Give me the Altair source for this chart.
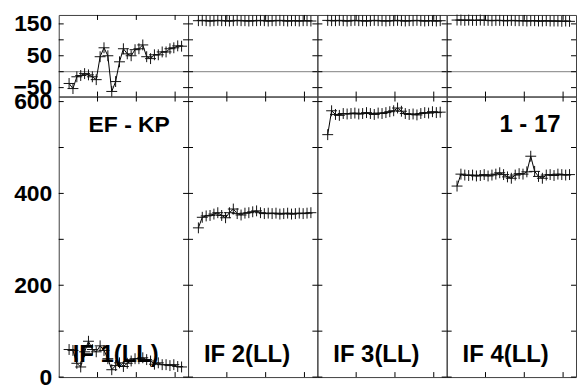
import altair as alt
import pandas as pd

times = [0.8, 1.1, 1.4, 1.7, 2.0, 2.3, 2.6, 2.9, 3.2, 3.5, 3.8, 4.1, 4.4, 4.7, 5.0,
         5.3, 5.6, 5.9, 6.2, 6.5, 6.8, 7.1, 7.4, 7.7, 8.0, 8.3, 8.6, 8.9, 9.2, 9.5]

phase_if1 = [-37, -53, -16, -12, -6, -10, -16, -25, 47, 75, 50, -62, -31, 31, 72,
             56, 50, 69, 72, 84, 47, 41, 53, 53, 62, 62, 72, 75, 81, 80]
phase_if2 = [160, 161, 160, 159, 160, 161, 160, 160, 159, 160, 161, 160, 160, 159, 160,
             160, 161, 160, 159, 160, 160, 161, 160, 159, 160, 160, 159, 160, 160, 159]
phase_if3 = [161, 160, 160, 161, 160, 159, 160, 161, 160, 160, 159, 160, 161, 160, 160,
             159, 160, 160, 161, 160, 159, 160, 160, 161, 160, 159, 160, 160, 159, 160]
phase_if4 = [162, 162, 161, 162, 161, 161, 162, 161, 161, 160, 161, 161, 160, 160, 161,
             160, 160, 160, 159, 160, 160, 159, 159, 160, 159, 159, 159, 158, 159, 158]

amp_if1 = [60, 58, 30, 22, 55, 78, 60, 55, 68, 58, 40, 16, 25, 31, 23,
           30, 35, 40, 40, 42, 38, 35, 28, 31, 27, 27, 25, 27, 23, 22]
amp_if2 = [325, 348, 351, 352, 355, 358, 352, 347, 358, 366, 356, 353, 357, 358, 360,
           362, 358, 356, 357, 356, 357, 355, 356, 357, 355, 356, 357, 356, 357, 358]
amp_if3 = [528, 580, 572, 570, 574, 573, 574, 575, 573, 574, 576, 574, 572, 575, 574,
           576, 578, 580, 586, 579, 574, 572, 573, 571, 574, 576, 575, 578, 576, 577]
amp_if4 = [416, 442, 440, 439, 440, 438, 439, 441, 438, 440, 442, 445, 441, 436, 433,
           440, 443, 442, 447, 481, 448, 437, 433, 440, 441, 439, 442, 441, 440, 441]

panel_labels = ["IF 1(LL)", "IF 2(LL)", "IF 3(LL)", "IF 4(LL)"]
baseline_label = "EF - KP"
range_label = "1 - 17"

phase_ticks = [150, 100, 50, 0, -50]
phase_labels = [150, 50, -50]
amp_ticks = [0, 100, 200, 300, 400, 500, 600]
amp_labels = [0, 200, 400, 600]
time_ticks = [3, 6, 9]

W, HT, HB = 130, 82, 282
FONT = "Liberation Sans"
CROSS = "M-1,0L1,0M0,-1L0,1"
TL = 5


def panel(vals, domain, height, yticks, ylabels, show_axis, zero_line, texts):
    df = pd.DataFrame({"t": times, "v": vals})
    xs = alt.X("t:Q", scale=alt.Scale(domain=[0, 10], nice=False, zero=False), axis=None)
    if show_axis:
        ax = alt.Axis(values=ylabels, ticks=False, domain=False, grid=False, title=None,
                      labelFont=FONT, labelFontSize=23, labelFontWeight="bold",
                      labelColor="black", labelPadding=7, labelOverlap=False,
                      labelFlush=False, labelBound=False)
    else:
        ax = None
    ys = alt.Y("v:Q", scale=alt.Scale(domain=domain, nice=False, zero=False), axis=ax)

    layers = []
    if zero_line:
        layers.append(alt.Chart(pd.DataFrame({"v": [0]})).mark_rule(
            color="#808080", strokeWidth=1).encode(y=ys, x=alt.value(0), x2=alt.value(W)))
    ytdf = pd.DataFrame({"v": yticks})
    layers.append(alt.Chart(ytdf).mark_rule(color="black", strokeWidth=1).encode(
        y=ys, x=alt.value(0), x2=alt.value(TL)))
    layers.append(alt.Chart(ytdf).mark_rule(color="black", strokeWidth=1).encode(
        y=ys, x=alt.value(W - TL), x2=alt.value(W)))
    xtdf = pd.DataFrame({"t": time_ticks})
    layers.append(alt.Chart(xtdf).mark_rule(color="black", strokeWidth=1).encode(
        x=xs, y=alt.value(0), y2=alt.value(TL)))
    layers.append(alt.Chart(xtdf).mark_rule(color="black", strokeWidth=1).encode(
        x=xs, y=alt.value(height - TL), y2=alt.value(height)))
    layers.append(alt.Chart(df).mark_line(color="black", strokeWidth=1).encode(x=xs, y=ys))
    layers.append(alt.Chart(df).mark_point(shape=CROSS, size=120, filled=False,
                                           color="#111", strokeWidth=1, opacity=1).encode(x=xs, y=ys))
    for (txt, px, py, fs) in texts:
        layers.append(alt.Chart(pd.DataFrame({"s": [txt]})).mark_text(
            font=FONT, fontSize=fs, fontWeight="bold", color="black",
            align="left", baseline="alphabetic").encode(
            x=alt.value(px), y=alt.value(py), text="s:N"))
    return alt.layer(*layers).properties(width=W, height=height)


phases = [phase_if1, phase_if2, phase_if3, phase_if4]
amps = [amp_if1, amp_if2, amp_if3, amp_if4]

tops = []
bots = []
for i in range(4):
    tops.append(panel(phases[i], [-78, 178], HT, phase_ticks, phase_labels,
                      i == 0, True, []))
    texts = [(panel_labels[i], 14 if i == 0 else 16, 267, 24)]
    if i == 0:
        texts.append((baseline_label, 30, 36, 23))
    if i == 3:
        texts.append((range_label, 53, 36, 24))
    bots.append(panel(amps[i], [0, 611], HB, amp_ticks, amp_labels,
                      i == 0, False, texts))

chart = alt.concat(
    *tops, *bots, columns=4, spacing=0, bounds="flush", align="each",
).properties(
    padding={"left": 4, "top": 3, "right": 0, "bottom": 0}
).configure_view(stroke="#404040", strokeWidth=1)

chart.save("out.html", embed_options={"renderer": "svg", "actions": False})
